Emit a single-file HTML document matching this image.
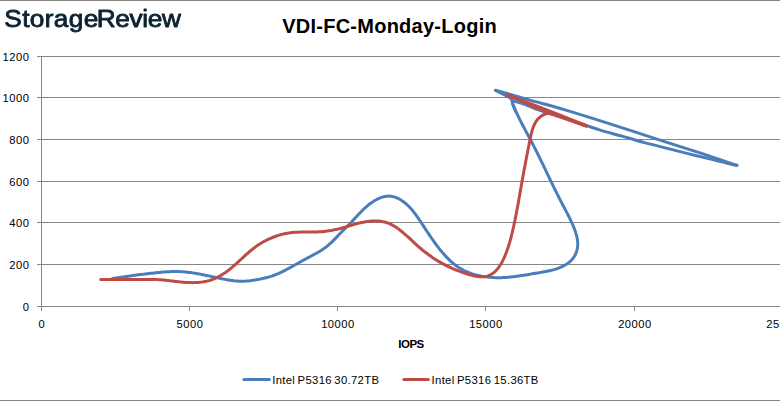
<!DOCTYPE html>
<html lang="en"><head><meta charset="utf-8"><title>VDI-FC-Monday-Login</title>
<style>
html,body{margin:0;padding:0;background:#fff;}
body{width:780px;height:401px;overflow:hidden;position:relative;font-family:"Liberation Sans",sans-serif;}
svg{position:absolute;left:0;top:0;display:block;}
text{font-family:"Liberation Sans",sans-serif;fill:#000;}
.ax{font-size:11.2px;letter-spacing:0.5px;}
.logo{font-size:24.6px;fill:#0b2331;stroke:#0b2331;stroke-width:0.85px;stroke-linejoin:round;}
.title{font-size:20px;font-weight:bold;letter-spacing:0.25px;}
.leg{font-size:11.3px;letter-spacing:0.32px;word-spacing:-1.0px;}
.xt{font-size:11.5px;font-weight:bold;letter-spacing:-0.5px;}
</style></head><body>
<svg width="780" height="401" viewBox="0 0 780 401">
<defs><filter id="g" x="-5%" y="-20%" width="110%" height="150%"><feOffset dx="0" dy="0"/></filter></defs>
<rect x="0" y="0" width="780" height="401" fill="#fff"/>
<rect x="0" y="0" width="780" height="1" fill="#858585"/>
<rect x="0" y="400" width="780" height="1" fill="#858585"/>

<g fill="#868686" shape-rendering="crispEdges">
<rect x="37" y="56" width="743" height="1"/>
<rect x="37" y="97" width="743" height="1"/>
<rect x="37" y="139" width="743" height="1"/>
<rect x="37" y="181" width="743" height="1"/>
<rect x="37" y="222" width="743" height="1"/>
<rect x="37" y="264" width="743" height="1"/>
<rect x="37" y="306" width="743" height="1"/>
<rect x="41" y="56" width="1" height="251"/>
<rect x="41" y="306" width="1" height="5"/>
<rect x="189" y="306" width="1" height="5"/>
<rect x="337" y="306" width="1" height="5"/>
<rect x="485" y="306" width="1" height="5"/>
<rect x="634" y="306" width="1" height="5"/>
</g>
<path d="M112.49 278.57 L114.24 278.29 L115.98 278.01 L117.72 277.74 L119.46 277.48 L121.19 277.21 L122.93 276.96 L124.66 276.70 L126.39 276.45 L128.12 276.21 L129.85 275.97 L131.57 275.73 L133.30 275.50 L135.03 275.27 L136.76 275.04 L138.49 274.82 L140.21 274.60 L141.95 274.38 L143.68 274.17 L145.41 273.96 L147.15 273.75 L148.89 273.55 L150.63 273.35 L152.37 273.15 L154.12 272.95 L155.87 272.76 L157.62 272.58 L159.37 272.41 L161.13 272.25 L162.88 272.10 L164.64 271.97 L166.39 271.85 L168.15 271.74 L169.90 271.66 L171.66 271.60 L173.41 271.55 L175.16 271.54 L176.91 271.54 L178.66 271.58 L180.40 271.64 L182.14 271.73 L183.88 271.85 L185.62 272.00 L187.35 272.18 L189.08 272.39 L190.81 272.61 L192.53 272.86 L194.26 273.13 L195.98 273.42 L197.70 273.72 L199.42 274.04 L201.14 274.37 L202.85 274.71 L204.57 275.06 L206.29 275.42 L208.00 275.78 L209.72 276.15 L211.43 276.53 L213.15 276.90 L214.87 277.27 L216.58 277.64 L218.30 278.01 L220.02 278.36 L221.74 278.71 L223.46 279.06 L225.18 279.38 L226.91 279.70 L228.63 279.99 L230.36 280.26 L232.09 280.50 L233.82 280.72 L235.55 280.90 L237.29 281.04 L239.02 281.15 L240.76 281.21 L242.50 281.22 L244.24 281.18 L245.98 281.09 L247.72 280.96 L249.47 280.79 L251.21 280.58 L252.95 280.33 L254.70 280.07 L256.44 279.77 L258.17 279.46 L259.91 279.13 L261.64 278.78 L263.36 278.40 L265.07 278.00 L266.78 277.56 L268.47 277.10 L270.15 276.60 L271.82 276.07 L273.47 275.49 L275.10 274.88 L276.72 274.23 L278.32 273.55 L279.91 272.83 L281.48 272.09 L283.05 271.32 L284.60 270.54 L286.15 269.73 L287.69 268.91 L289.23 268.08 L290.77 267.24 L292.30 266.39 L293.83 265.54 L295.37 264.69 L296.90 263.84 L298.43 262.99 L299.97 262.13 L301.50 261.28 L303.04 260.44 L304.58 259.59 L306.12 258.75 L307.67 257.92 L309.22 257.09 L310.77 256.27 L312.32 255.45 L313.86 254.63 L315.40 253.79 L316.93 252.95 L318.44 252.08 L319.94 251.19 L321.42 250.28 L322.87 249.33 L324.30 248.35 L325.69 247.32 L327.05 246.25 L328.39 245.14 L329.69 243.99 L330.98 242.81 L332.24 241.60 L333.49 240.37 L334.73 239.12 L335.97 237.86 L337.19 236.60 L338.42 235.33 L339.65 234.06 L340.89 232.80 L342.14 231.54 L343.39 230.30 L344.64 229.05 L345.89 227.81 L347.12 226.57 L348.35 225.32 L349.56 224.07 L350.76 222.81 L351.94 221.54 L353.11 220.27 L354.27 219.00 L355.43 217.73 L356.59 216.45 L357.76 215.19 L358.94 213.93 L360.14 212.67 L361.35 211.43 L362.60 210.19 L363.87 208.98 L365.17 207.77 L366.51 206.59 L367.90 205.42 L369.32 204.29 L370.78 203.19 L372.28 202.14 L373.80 201.14 L375.35 200.21 L376.93 199.35 L378.52 198.57 L380.14 197.89 L381.77 197.30 L383.41 196.82 L385.06 196.45 L386.71 196.22 L388.37 196.12 L390.03 196.16 L391.69 196.35 L393.33 196.69 L394.96 197.17 L396.58 197.77 L398.16 198.48 L399.72 199.29 L401.24 200.20 L402.72 201.18 L404.15 202.23 L405.53 203.34 L406.86 204.51 L408.15 205.72 L409.39 206.97 L410.59 208.26 L411.75 209.59 L412.88 210.96 L413.99 212.34 L415.06 213.76 L416.11 215.19 L417.14 216.64 L418.15 218.10 L419.15 219.56 L420.14 221.03 L421.12 222.50 L422.09 223.97 L423.06 225.43 L424.03 226.90 L424.99 228.36 L425.95 229.82 L426.92 231.27 L427.88 232.73 L428.85 234.17 L429.82 235.62 L430.80 237.05 L431.79 238.49 L432.78 239.91 L433.78 241.33 L434.80 242.75 L435.83 244.15 L436.87 245.55 L437.92 246.94 L439.00 248.32 L440.09 249.70 L441.20 251.06 L442.33 252.41 L443.47 253.74 L444.64 255.06 L445.84 256.36 L447.05 257.63 L448.29 258.88 L449.55 260.11 L450.84 261.30 L452.15 262.46 L453.48 263.58 L454.84 264.67 L456.23 265.71 L457.65 266.71 L459.10 267.67 L460.57 268.58 L462.08 269.44 L463.61 270.25 L465.17 271.01 L466.75 271.73 L468.35 272.40 L469.98 273.03 L471.63 273.61 L473.29 274.15 L474.97 274.65 L476.67 275.10 L478.38 275.52 L480.11 275.89 L481.85 276.23 L483.59 276.53 L485.35 276.79 L487.11 277.02 L488.87 277.21 L490.65 277.37 L492.42 277.49 L494.19 277.59 L495.97 277.65 L497.74 277.68 L499.51 277.68 L501.27 277.65 L503.03 277.59 L504.78 277.50 L506.52 277.39 L508.26 277.26 L509.99 277.11 L511.72 276.93 L513.45 276.74 L515.17 276.52 L516.88 276.30 L518.60 276.06 L520.31 275.80 L522.02 275.54 L523.73 275.27 L525.45 274.99 L527.16 274.70 L528.87 274.41 L530.59 274.12 L532.30 273.83 L534.03 273.53 L535.75 273.24 L537.48 272.96 L539.21 272.67 L540.94 272.38 L542.68 272.08 L544.41 271.77 L546.14 271.44 L547.87 271.09 L549.60 270.71 L551.31 270.30 L553.02 269.85 L554.72 269.36 L556.42 268.83 L558.09 268.25 L559.76 267.61 L561.41 266.91 L563.02 266.15 L564.60 265.33 L566.12 264.43 L567.58 263.47 L568.98 262.42 L570.29 261.30 L571.52 260.09 L572.64 258.79 L573.66 257.41 L574.57 255.96 L575.37 254.43 L576.06 252.85 L576.63 251.23 L577.08 249.57 L577.42 247.88 L577.63 246.17 L577.72 244.45 L577.69 242.72 L577.56 240.99 L577.33 239.26 L577.02 237.53 L576.63 235.80 L576.16 234.08 L575.63 232.36 L575.05 230.66 L574.43 228.97 L573.77 227.29 L573.08 225.63 L572.37 223.99 L571.64 222.37 L570.90 220.76 L570.15 219.17 L569.38 217.59 L568.60 216.03 L567.81 214.47 L567.01 212.92 L566.21 211.38 L565.40 209.85 L564.59 208.31 L563.78 206.78 L562.97 205.25 L562.16 203.72 L561.35 202.19 L560.55 200.65 L559.75 199.10 L558.96 197.55 L558.17 196.00 L557.39 194.45 L556.61 192.89 L555.84 191.32 L555.06 189.76 L554.29 188.19 L553.53 186.62 L552.76 185.04 L552.00 183.47 L551.24 181.89 L550.48 180.31 L549.72 178.73 L548.96 177.14 L548.21 175.56 L547.45 173.98 L546.69 172.39 L545.94 170.80 L545.18 169.22 L544.42 167.63 L543.66 166.05 L542.90 164.47 L542.13 162.88 L541.37 161.30 L540.60 159.72 L539.83 158.14 L539.05 156.56 L538.28 154.99 L537.50 153.42 L536.71 151.85 L535.92 150.28 L535.13 148.71 L534.33 147.15 L533.52 145.59 L532.71 144.04 L531.90 142.49 L531.08 140.94 L530.26 139.40 L529.43 137.85 L528.61 136.31 L527.78 134.77 L526.96 133.23 L526.13 131.69 L525.31 130.15 L524.49 128.61 L523.67 127.06 L522.86 125.52 L522.05 123.97 L521.25 122.42 L520.46 120.86 L519.68 119.30 L518.90 117.73 L518.14 116.16 L517.38 114.59 L516.64 113.00 L515.91 111.41 L515.19 109.82 L514.48 108.21 L513.79 106.60 L513.12 104.98 L512.47 103.35" stroke="#4a7ebb" fill="none" stroke-width="3" stroke-linecap="round" stroke-linejoin="round"/>
<path d="M515.40 111.00 L512.90 104.50 L512.20 102.00 L512.00 100.00 L510.50 98.20 L507.00 96.20 L503.00 94.20 L498.50 91.90 L495.50 90.30" stroke="#4a7ebb" fill="none" stroke-width="3" stroke-linecap="round" stroke-linejoin="round"/>
<path d="M495.50 90.30 C501.25 91.93 518.42 96.83 530.00 100.10 C541.58 103.37 551.67 105.93 565.00 109.90 C578.33 113.87 593.92 118.78 610.00 123.90 C626.08 129.02 646.50 135.77 661.50 140.60 C676.50 145.43 689.42 149.45 700.00 152.90 C710.58 156.35 718.83 159.23 725.00 161.30 C731.17 163.37 735.00 164.63 737.00 165.30" stroke="#4a7ebb" fill="none" stroke-width="3" stroke-linecap="round" stroke-linejoin="round"/>
<path d="M737.00 165.30 C736.27 165.17 735.10 165.07 732.60 164.50 C730.10 163.93 725.63 162.80 722.00 161.90 C718.37 161.00 716.30 160.43 710.80 159.10 C705.30 157.77 696.27 155.68 689.00 153.90 C681.73 152.12 674.47 150.23 667.20 148.40 C659.93 146.57 652.67 144.87 645.40 142.90 C638.13 140.93 630.87 138.65 623.60 136.60 C616.33 134.55 607.15 132.17 601.80 130.60 C596.45 129.03 600.72 130.20 591.50 127.20 C582.28 124.20 555.70 115.63 546.50 112.60 C537.30 109.57 539.72 110.30 536.30 109.00 C532.88 107.70 529.42 106.03 526.00 104.80 C522.58 103.57 517.88 102.20 515.80 101.60 C513.72 101.00 513.88 101.27 513.50 101.20" stroke="#4a7ebb" fill="none" stroke-width="3" stroke-linecap="round" stroke-linejoin="round"/>
<path d="M100.70 279.50 L140.00 279.50 L141.41 279.50 L142.84 279.50 L144.26 279.50 L145.68 279.50 L147.11 279.50 L148.54 279.50 L149.97 279.50 L151.40 279.50 L152.83 279.50 L154.25 279.50 L155.68 279.50 L157.10 279.55 L158.52 279.63 L159.94 279.72 L161.35 279.83 L162.77 279.95 L164.18 280.09 L165.59 280.24 L167.00 280.39 L168.41 280.55 L169.82 280.72 L171.23 280.89 L172.64 281.06 L174.05 281.23 L175.46 281.40 L176.87 281.56 L178.28 281.72 L179.69 281.87 L181.10 282.02 L182.52 282.15 L183.94 282.27 L185.36 282.38 L186.78 282.47 L188.20 282.54 L189.63 282.59 L191.06 282.62 L192.50 282.63 L193.94 282.62 L195.37 282.58 L196.81 282.51 L198.24 282.41 L199.67 282.29 L201.10 282.13 L202.52 281.94 L203.93 281.71 L205.33 281.45 L206.72 281.16 L208.10 280.82 L209.47 280.45 L210.82 280.03 L212.16 279.57 L213.48 279.07 L214.78 278.53 L216.07 277.96 L217.34 277.34 L218.60 276.69 L219.84 276.01 L221.07 275.30 L222.28 274.56 L223.48 273.79 L224.66 273.00 L225.84 272.18 L226.99 271.34 L228.14 270.48 L229.27 269.61 L230.39 268.71 L231.50 267.81 L232.59 266.89 L233.68 265.96 L234.75 265.02 L235.82 264.07 L236.88 263.12 L237.94 262.16 L238.98 261.19 L240.03 260.23 L241.07 259.26 L242.12 258.30 L243.16 257.33 L244.21 256.37 L245.26 255.41 L246.31 254.46 L247.37 253.52 L248.43 252.58 L249.51 251.66 L250.59 250.74 L251.68 249.84 L252.79 248.96 L253.91 248.09 L255.04 247.23 L256.19 246.40 L257.35 245.59 L258.53 244.79 L259.73 244.02 L260.94 243.26 L262.17 242.53 L263.41 241.82 L264.66 241.14 L265.93 240.47 L267.21 239.83 L268.50 239.21 L269.80 238.62 L271.12 238.05 L272.44 237.50 L273.77 236.98 L275.12 236.48 L276.47 236.01 L277.83 235.56 L279.19 235.14 L280.57 234.75 L281.95 234.38 L283.33 234.05 L284.72 233.73 L286.12 233.45 L287.51 233.20 L288.92 232.97 L290.32 232.77 L291.73 232.60 L293.14 232.47 L294.55 232.35 L295.97 232.26 L297.38 232.19 L298.80 232.14 L300.22 232.11 L301.64 232.08 L303.06 232.07 L304.48 232.07 L305.90 232.07 L307.33 232.07 L308.75 232.07 L310.18 232.07 L311.60 232.06 L313.03 232.05 L314.45 232.03 L315.88 231.99 L317.31 231.93 L318.73 231.86 L320.16 231.77 L321.58 231.66 L323.01 231.54 L324.43 231.39 L325.85 231.23 L327.26 231.05 L328.67 230.85 L330.08 230.63 L331.48 230.40 L332.88 230.14 L334.27 229.87 L335.66 229.58 L337.04 229.27 L338.41 228.95 L339.77 228.60 L341.13 228.24 L342.48 227.87 L343.82 227.48 L345.17 227.09 L346.51 226.69 L347.85 226.28 L349.20 225.87 L350.55 225.47 L351.90 225.06 L353.26 224.66 L354.63 224.27 L356.01 223.89 L357.40 223.52 L358.80 223.16 L360.21 222.83 L361.64 222.51 L363.07 222.22 L364.51 221.94 L365.96 221.70 L367.41 221.48 L368.86 221.30 L370.32 221.15 L371.77 221.03 L373.21 220.95 L374.65 220.91 L376.08 220.92 L377.51 220.97 L378.92 221.06 L380.31 221.21 L381.70 221.40 L383.06 221.65 L384.41 221.96 L385.73 222.32 L387.04 222.74 L388.32 223.21 L389.59 223.74 L390.83 224.31 L392.06 224.93 L393.28 225.60 L394.48 226.30 L395.66 227.04 L396.83 227.82 L397.99 228.63 L399.14 229.47 L400.27 230.34 L401.39 231.23 L402.51 232.15 L403.62 233.09 L404.71 234.04 L405.81 235.01 L406.89 235.99 L407.97 236.98 L409.05 237.97 L410.12 238.97 L411.19 239.97 L412.26 240.97 L413.33 241.97 L414.40 242.96 L415.47 243.94 L416.54 244.91 L417.61 245.87 L418.69 246.81 L419.77 247.75 L420.85 248.66 L421.94 249.57 L423.04 250.46 L424.13 251.34 L425.24 252.21 L426.35 253.06 L427.46 253.90 L428.59 254.73 L429.72 255.55 L430.86 256.35 L432.01 257.15 L433.16 257.93 L434.33 258.69 L435.51 259.45 L436.69 260.19 L437.89 260.93 L439.10 261.65 L440.32 262.36 L441.55 263.05 L442.79 263.74 L444.04 264.41 L445.30 265.07 L446.56 265.71 L447.84 266.35 L449.13 266.97 L450.42 267.57 L451.73 268.17 L453.04 268.75 L454.36 269.31 L455.69 269.87 L457.03 270.40 L458.37 270.93 L459.72 271.44 L461.08 271.94 L462.44 272.42 L463.81 272.88 L465.19 273.34 L466.57 273.77 L467.96 274.20 L469.36 274.60 L470.76 274.99 L472.16 275.37 L473.57 275.71 L474.97 276.03 L476.37 276.30 L477.77 276.52 L479.17 276.69 L480.55 276.79 L481.92 276.82 L483.28 276.78 L484.63 276.64 L485.95 276.42 L487.26 276.09 L488.55 275.66 L489.81 275.12 L491.03 274.48 L492.22 273.76 L493.36 272.95 L494.46 272.06 L495.50 271.11 L496.49 270.10 L497.43 269.03 L498.32 267.91 L499.18 266.74 L499.99 265.53 L500.77 264.28 L501.50 263.00 L502.21 261.70 L502.88 260.37 L503.52 259.03 L504.14 257.69 L504.73 256.33 L505.29 254.98 L505.84 253.63 L506.36 252.28 L506.86 250.94 L507.35 249.59 L507.82 248.25 L508.27 246.90 L508.70 245.56 L509.12 244.21 L509.53 242.86 L509.92 241.52 L510.30 240.17 L510.67 238.82 L511.02 237.46 L511.37 236.11 L511.71 234.75 L512.05 233.39 L512.37 232.02 L512.69 230.65 L513.01 229.28 L513.32 227.90 L513.63 226.52 L513.93 225.13 L514.23 223.75 L514.53 222.36 L514.82 220.96 L515.10 219.57 L515.39 218.17 L515.67 216.77 L515.94 215.36 L516.22 213.96 L516.49 212.55 L516.75 211.15 L517.02 209.74 L517.28 208.33 L517.54 206.92 L517.80 205.50 L518.05 204.09 L518.31 202.68 L518.56 201.26 L518.81 199.85 L519.06 198.44 L519.31 197.03 L519.56 195.61 L519.80 194.20 L520.05 192.79 L520.30 191.39 L520.54 189.98 L520.79 188.57 L521.03 187.17 L521.28 185.77 L521.52 184.37 L521.77 182.97 L522.02 181.57 L522.26 180.18 L522.51 178.79 L522.76 177.40 L523.01 176.02 L523.26 174.63 L523.52 173.25 L523.77 171.87 L524.02 170.49 L524.28 169.11 L524.54 167.73 L524.80 166.35 L525.06 164.97 L525.32 163.58 L525.58 162.20 L525.84 160.82 L526.11 159.44 L526.38 158.05 L526.64 156.66 L526.91 155.27 L527.19 153.88 L527.46 152.48 L527.74 151.08 L528.01 149.68 L528.29 148.28 L528.57 146.87 L528.86 145.45 L529.14 144.04 L529.43 142.61 L529.72 141.19 L530.01 139.75 L530.30 138.32 L530.60 136.87 L530.91 135.44 L531.24 134.00 L531.59 132.58 L531.96 131.17 L532.37 129.78 L532.81 128.41 L533.29 127.07 L533.81 125.76 L534.39 124.48 L535.02 123.24 L535.71 122.04 L536.46 120.89 L537.28 119.79 L538.18 118.74 L539.15 117.76 L540.20 116.85 L541.31 116.02 L542.48 115.29 L543.71 114.66 L544.99 114.14 L546.32 113.76 L547.70 113.50 L549.13 113.40 L550.59 113.44 L552.08 113.66 L553.61 114.06 L555.16 114.64 L560.00 116.50 L586.00 125.80" stroke="#be4b48" fill="none" stroke-width="3" stroke-linecap="round" stroke-linejoin="round"/>
<path d="M507.60 95.10 L546.00 110.00 L586.00 125.70" stroke="#be4b48" fill="none" stroke-width="3.5" stroke-linecap="round" stroke-linejoin="round"/>
<path d="M529.80 105.60 L586.00 126.00" stroke="#be4b48" fill="none" stroke-width="3" stroke-linecap="round" stroke-linejoin="round"/>
<path d="M243.9 379.4H269.4" stroke="#4a7ebb" fill="none" stroke-width="3" stroke-linecap="round" stroke-linejoin="round"/>
<path d="M403.9 379.4H428.3" stroke="#be4b48" fill="none" stroke-width="3" stroke-linecap="round" stroke-linejoin="round"/>
<text class="logo" y="27.3" transform="scale(1.065,1)" filter="url(#g)"><tspan x="4.04" style="letter-spacing:0.34px">Storage</tspan><tspan x="90.75" style="letter-spacing:-0.28px">Review</tspan></text>
<text class="title" x="282.2" y="33.0">VDI-FC-Monday-Login</text>
<text class="ax" x="29.5" y="61.0" text-anchor="end">1200</text>
<text class="ax" x="29.5" y="102.0" text-anchor="end">1000</text>
<text class="ax" x="29.5" y="144.0" text-anchor="end">800</text>
<text class="ax" x="29.5" y="186.0" text-anchor="end">600</text>
<text class="ax" x="29.5" y="227.0" text-anchor="end">400</text>
<text class="ax" x="29.5" y="269.0" text-anchor="end">200</text>
<text class="ax" x="29.5" y="311.0" text-anchor="end">0</text>
<text class="ax" x="41.95" y="328" text-anchor="middle">0</text>
<text class="ax" x="189.95" y="328" text-anchor="middle">5000</text>
<text class="ax" x="337.95" y="328" text-anchor="middle">10000</text>
<text class="ax" x="485.95" y="328" text-anchor="middle">15000</text>
<text class="ax" x="634.95" y="328" text-anchor="middle">20000</text>
<text class="ax" x="766.2" y="328" style="letter-spacing:0.6px">25000</text>
<text class="xt" x="398.3" y="348.1">IOPS</text>
<text class="leg" x="272.2" y="383.9">Intel P5316 30.72TB</text>
<text class="leg" x="431.6" y="383.9">Intel P5316 15.36TB</text>
</svg></body></html>
